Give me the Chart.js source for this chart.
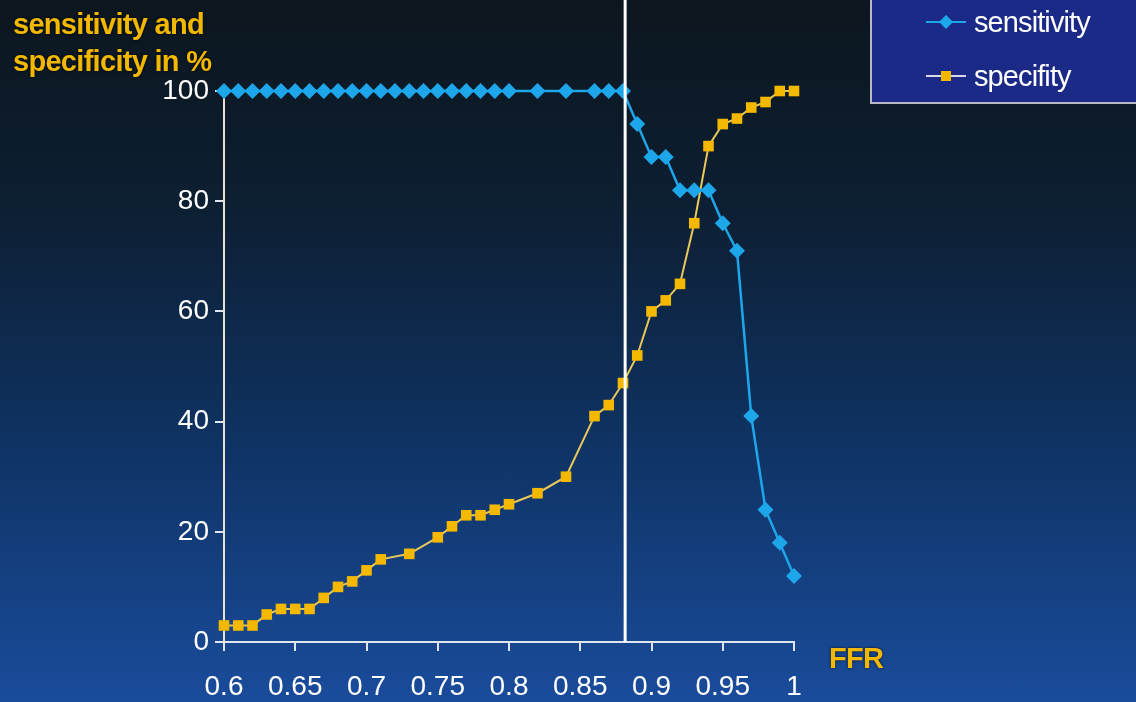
<!DOCTYPE html>
<html>
<head>
<meta charset="utf-8">
<script src="https://cdn.jsdelivr.net/npm/chart.js@4.4.1/dist/chart.umd.min.js"></script>
<style>
  html, body {
    margin: 0;
    padding: 0;
  }
  body {
    width: 1136px;
    height: 702px;
    overflow: hidden;
    position: relative;
    background: linear-gradient(to bottom, #0c161e 0%, #0d1f33 30%, #0f3466 65%, #1a4c9c 100%);
    font-family: "Liberation Sans", Arial, sans-serif;
  }
  #wrap {
    position: absolute;
    left: 0;
    top: 0;
    width: 1136px;
    height: 702px;
  }
  .axis-title {
    position: absolute;
    color: #f2b800;
    font-weight: bold;
    font-size: 29px;
    letter-spacing: -0.7px;
    text-shadow: 0 0 3px rgba(0, 0, 0, 0.8);
    line-height: 37px;
  }
  #legend {
    position: absolute;
    left: 870px;
    top: -4px;
    width: 272px;
    height: 108px;
    box-sizing: border-box;
    border: 2px solid #b8b8c8;
    background: #1a2a86;
  }
  .legend-row {
    position: absolute;
    left: 52px;
    height: 30px;
    display: flex;
    align-items: center;
    color: #ffffff;
    font-size: 29px;
    letter-spacing: -0.9px;
  }
  .legend-row canvas {
    margin-right: 6px;
  }
</style>
</head>
<body>
<div id="wrap"><canvas id="rocChart" width="1136" height="702"></canvas></div>
<div class="axis-title" style="left: 13px; top: 6px;">sensitivity and<br>specificity in %</div>
<div class="axis-title" style="left: 829px; top: 640px;">FFR</div>
<div id="legend">
  <div class="legend-row" style="top: 9px;"><canvas id="legSens" width="44" height="20"></canvas>sensitivity</div>
  <div class="legend-row" style="top: 63px;"><canvas id="legSpec" width="44" height="20"></canvas>specifity</div>
</div>
<script>
// FFR values (x) and the two curves
const sensFFR = [0.60, 0.61, 0.62, 0.63, 0.64, 0.65, 0.66, 0.67, 0.68, 0.69, 0.70,
  0.71, 0.72, 0.73, 0.74, 0.75, 0.76, 0.77, 0.78, 0.79, 0.80, 0.82, 0.84, 0.86,
  0.87, 0.88, 0.89, 0.90, 0.91, 0.92, 0.93, 0.94, 0.95, 0.96, 0.97, 0.98, 0.99, 1.00];
const sensitivity = [100, 100, 100, 100, 100, 100, 100, 100, 100, 100, 100,
  100, 100, 100, 100, 100, 100, 100, 100, 100, 100, 100, 100, 100,
  100, 100, 94, 88, 88, 82, 82, 82, 76, 71, 41, 24, 18, 12];

const specFFR = [0.60, 0.61, 0.62, 0.63, 0.64, 0.65, 0.66, 0.67, 0.68, 0.69, 0.70,
  0.71, 0.73, 0.75, 0.76, 0.77, 0.78, 0.79, 0.80, 0.82, 0.84, 0.86, 0.87, 0.88,
  0.89, 0.90, 0.91, 0.92, 0.93, 0.94, 0.95, 0.96, 0.97, 0.98, 0.99, 1.00];
const specificity = [3, 3, 3, 5, 6, 6, 6, 8, 10, 11, 13,
  15, 16, 19, 21, 23, 23, 24, 25, 27, 30, 41, 43, 47,
  52, 60, 62, 65, 76, 90, 94, 95, 97, 98, 100, 100];

const xTicks = [0.6, 0.65, 0.7, 0.75, 0.8, 0.85, 0.9, 0.95, 1];
const xTickLabels = ['0.6', '0.65', '0.7', '0.75', '0.8', '0.85', '0.9', '0.95', '1'];
const yTicks = [0, 20, 40, 60, 80, 100];

const cutoffFFR = 0.8815;

const SENS_COLOR = '#1ea6ea';
const SPEC_LINE = '#e8c85a';
const SPEC_POINT = '#f4b800';

const toPoints = (xs, ys) => xs.map((x, i) => ({ x: x, y: ys[i] }));

const cutoffLine = {
  id: 'cutoffLine',
  afterDatasetsDraw(chart) {
    const ctx = chart.ctx;
    const x = chart.scales.x.getPixelForValue(cutoffFFR);
    ctx.save();
    ctx.strokeStyle = '#ffffff';
    ctx.lineWidth = 3;
    ctx.beginPath();
    ctx.moveTo(x, 0);
    ctx.lineTo(x, chart.chartArea.bottom);
    ctx.stroke();
    ctx.restore();
  }
};

const renderChart = () => {
  const ctx = document.getElementById('rocChart');

  new Chart(ctx, {
    type: 'scatter',
    data: {
      datasets: [{
        label: 'sensitivity',
        data: toPoints(sensFFR, sensitivity),
        showLine: true,
        borderColor: SENS_COLOR,
        backgroundColor: SENS_COLOR,
        borderWidth: 2.5,
        pointStyle: 'rectRot',
        pointRadius: 8,
        pointBorderWidth: 0,
        clip: false
      }, {
        label: 'specifity',
        data: toPoints(specFFR, specificity),
        showLine: true,
        borderColor: SPEC_LINE,
        backgroundColor: SPEC_POINT,
        borderWidth: 2,
        pointStyle: 'rect',
        pointRadius: 7.5,
        pointBorderWidth: 0,
        clip: false
      }]
    },
    options: {
      responsive: false,
      animation: false,
      layout: {
        padding: { top: 91, right: 342, left: 0, bottom: 0 }
      },
      plugins: {
        legend: { display: false },
        tooltip: { enabled: false }
      },
      scales: {
        x: {
          type: 'linear',
          min: 0.6,
          max: 1,
          afterBuildTicks: (axis) => {
            axis.ticks = xTicks.map((v) => ({ value: v }));
          },
          afterFit: (axis) => {
            axis.height = 60;
          },
          ticks: {
            color: '#ffffff',
            font: { family: '"Liberation Sans", Arial, sans-serif', size: 28 },
            padding: 19,
            maxRotation: 0,
            autoSkip: false,
            callback: (value) => xTickLabels[xTicks.indexOf(value)]
          },
          grid: {
            drawOnChartArea: false,
            color: '#dfe6f2',
            lineWidth: 2,
            tickLength: 9
          },
          border: { color: '#dfe6f2', width: 2 }
        },
        y: {
          min: 0,
          max: 100,
          afterBuildTicks: (axis) => {
            axis.ticks = yTicks.map((v) => ({ value: v }));
          },
          afterFit: (axis) => {
            axis.width = 224;
          },
          ticks: {
            color: '#ffffff',
            font: { family: '"Liberation Sans", Arial, sans-serif', size: 28 },
            padding: 6
          },
          grid: {
            drawOnChartArea: false,
            color: '#dfe6f2',
            lineWidth: 2,
            tickLength: 9
          },
          border: { color: '#e8e0d0', width: 2 }
        }
      }
    },
    plugins: [cutoffLine]
  });
};

const renderLegendMarker = (id, lineColor, pointColor, style) => {
  const c = document.getElementById(id).getContext('2d');
  c.strokeStyle = lineColor;
  c.lineWidth = 2;
  c.beginPath();
  c.moveTo(2, 10);
  c.lineTo(42, 10);
  c.stroke();
  c.fillStyle = pointColor;
  if (style === 'diamond') {
    c.beginPath();
    c.moveTo(22, 3);
    c.lineTo(29, 10);
    c.lineTo(22, 17);
    c.lineTo(15, 10);
    c.closePath();
    c.fill();
  } else {
    c.fillRect(17, 5, 10, 10);
  }
};

window.onload = () => {
  renderChart();
  renderLegendMarker('legSens', SENS_COLOR, SENS_COLOR, 'diamond');
  renderLegendMarker('legSpec', '#d8d8e8', SPEC_POINT, 'square');
};
</script>
</body>
</html>
